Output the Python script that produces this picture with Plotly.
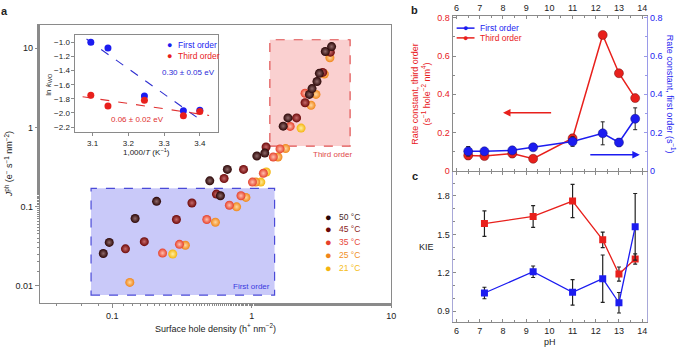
import plotly.graph_objects as go

W, H = 685, 355

# ---------------- Panel a data ----------------
hole_50 = [0.0863, 0.0952, 0.1459, 0.208, 0.5006, 0.669, 0.597, 1.089, 1.242, 1.683, 1.82, 2.594, 2.71, 2.94, 3.058, 3.373, 3.741]
jph_50 = [0.0255, 0.0352, 0.0705, 0.1162, 0.2113, 0.2945, 0.1368, 0.435, 0.473, 1.037, 1.318, 2.61, 3.09, 3.80, 4.82, 9.1, 10.5]
hole_45 = [0.1244, 0.1698, 0.2887, 0.3728, 0.634, 0.874, 0.5585, 1.268, 2.099, 2.415, 3.228, 3.664]
jph_45 = [0.0292, 0.036, 0.0686, 0.111, 0.226, 0.2945, 0.1435, 0.566, 1.318, 2.05, 4.95, 8.92]
hole_35 = [0.2296, 0.3034, 0.4764, 0.692, 0.838, 1.013, 1.213, 1.429, 1.596, 1.888, 2.415]
jph_35 = [0.0258, 0.0333, 0.0686, 0.1038, 0.1368, 0.2037, 0.263, 0.423, 0.535, 1.028, 2.70]
hole_25 = [0.1337, 0.3346, 0.5495, 0.780, 0.909, 1.071, 1.544, 1.751, 2.665, 2.89, 3.319, 3.639]
jph_25 = [0.011, 0.0324, 0.0634, 0.0991, 0.1303, 0.2037, 0.423, 0.540, 1.905, 2.61, 4.73, 7.59]
hole_21 = [0.2716, 1.163, 1.274, 2.26]
jph_21 = [0.0251, 0.2037, 0.273, 0.980]

temp_labels = ["50 °C", "45 °C", "35 °C", "25 °C", "21 °C"]

# regime boxes (data units)
first_box_x = [0.0705, 1.46]
first_box_y = [0.0076, 0.17]
third_box_x = [1.35, 5.08]
third_box_y = [0.58, 12.8]

# inset (Arrhenius)
inv_T = [3.095, 3.143, 3.245, 3.354, 3.400]
lnk_first = [-1.00, -1.08, -1.76, -1.97, -1.96]
lnk_third = [-1.75, -1.90, -1.82, -2.04, -1.98]
fit_first_x = [3.083, 3.394]
fit_first_y = [-0.954, -2.07]
fit_third_x = [3.072, 3.426]
fit_third_y = [-1.77, -2.035]

# ---------------- Panel b data ----------------
ph_b = [6.5, 7.2, 8.4, 9.3, 11.0, 12.3, 13.0, 13.7]
k_third = [0.080, 0.077, 0.090, 0.063, 0.170, 0.710, 0.510, 0.380]
k_third_err = [0.020, 0.012, 0.020, 0.010, 0.020, 0.010, 0.012, 0.012]
k_first = [0.102, 0.102, 0.107, 0.123, 0.153, 0.196, 0.148, 0.272]
k_first_err = [0.025, 0.012, 0.015, 0.010, 0.025, 0.060, 0.020, 0.057]

# ---------------- Panel c data ----------------
ph_c = [7.2, 9.3, 11.0, 12.3, 13.0, 13.7]
kie_third = [1.584, 1.640, 1.760, 1.457, 1.190, 1.307]
kie_third_err = [0.10, 0.085, 0.13, 0.06, 0.055, 0.04]
kie_first = [1.042, 1.208, 1.047, 1.154, 0.966, 1.559]
kie_first_err = [0.045, 0.045, 0.10, 0.185, 0.08, 0.26]

FONT = "Liberation Sans, Arial, sans-serif"
RED = "#e8201c"
BLUE = "#1c1cf0"
AXC = "#8a8a8a"


def fx(p):
    return p / W


def fy(p):
    return 1 - p / H


fig = go.Figure()

# --- sphere scatter ---
sphere_base = ["#2a0505", "#6c0808", "#e6402a", "#f0861a", "#f5b40e"]
sphere_hi = ["#8f6a6a", "#c76a6a", "#ffc0b0", "#ffd8a0", "#fff0a0"]
legend_txt = ["#4a2a2a", "#8a1c1c", "#e8483a", "#f0901e", "#f5bd20"]
series = [(hole_50, jph_50), (hole_45, jph_45), (hole_35, jph_35), (hole_25, jph_25), (hole_21, jph_21)]
for i in [4, 3, 2, 1, 0]:
    xs, ys = series[i]
    fig.add_trace(go.Scatter(
        x=xs, y=ys, mode="markers", xaxis="x", yaxis="y", name=temp_labels[i], showlegend=False,
        marker=dict(size=9, color=sphere_base[i], line=dict(width=0),
                    gradient=dict(type="radial", color=sphere_hi[i])),
        hoverinfo="skip"))

# --- inset ---
fig.add_trace(go.Scatter(x=fit_first_x, y=fit_first_y, mode="lines", xaxis="x2", yaxis="y2",
                         line=dict(color="#3030d0", width=1.1, dash="dash"), showlegend=False))
fig.add_trace(go.Scatter(x=fit_third_x, y=fit_third_y, mode="lines", xaxis="x2", yaxis="y2",
                         line=dict(color="#e03030", width=1.1, dash="dash"), showlegend=False))
fig.add_trace(go.Scatter(x=inv_T, y=lnk_first, mode="markers", xaxis="x2", yaxis="y2",
                         name="First order", showlegend=False, marker=dict(size=7, color=BLUE)))
fig.add_trace(go.Scatter(x=inv_T, y=lnk_third, mode="markers", xaxis="x2", yaxis="y2",
                         name="Third order", showlegend=False, marker=dict(size=7, color=RED)))

# --- panel b ---
fig.add_trace(go.Scatter(x=ph_b, y=k_first, mode="lines+markers", xaxis="x3", yaxis="y4",
                         name="First order", showlegend=False,
                         line=dict(color=BLUE, width=1.5),
                         marker=dict(size=9, color=BLUE, line=dict(width=0.5, color="#10107a")),
                         error_y=dict(type="data", array=k_first_err, color="#222", thickness=1, width=2)))
fig.add_trace(go.Scatter(x=ph_b, y=k_third, mode="lines+markers", xaxis="x3", yaxis="y3",
                         name="Third order", showlegend=False,
                         line=dict(color=RED, width=1.5),
                         marker=dict(size=9, color=RED, line=dict(width=0.5, color="#701010")),
                         error_y=dict(type="data", array=k_third_err, color="#222", thickness=1, width=2)))

# --- panel c ---
fig.add_trace(go.Scatter(x=ph_c, y=kie_third, mode="lines+markers", xaxis="x4", yaxis="y5",
                         showlegend=False, line=dict(color=RED, width=1.3),
                         marker=dict(size=7, symbol="square", color=RED),
                         error_y=dict(type="data", array=kie_third_err, color="#222", thickness=1.2, width=2)))
fig.add_trace(go.Scatter(x=ph_c, y=kie_first, mode="lines+markers", xaxis="x4", yaxis="y5",
                         showlegend=False, line=dict(color=BLUE, width=1.3),
                         marker=dict(size=7, symbol="square", color=BLUE),
                         error_y=dict(type="data", array=kie_first_err, color="#222", thickness=1.2, width=2)))

tickfont = dict(family=FONT, size=9, color="#222")
minor_log = dict(ticks="outside", ticklen=2, tickcolor=AXC)

fig.update_layout(
    width=W, height=H, autosize=False,
    margin=dict(l=0, r=0, t=0, b=0),
    paper_bgcolor="white", plot_bgcolor="rgba(0,0,0,0)",
    font=dict(family=FONT, size=9, color="#222"),
    showlegend=False,
    xaxis=dict(domain=[fx(40), fx(394)], type="log", range=[-1.52, 1.0],
               tickvals=[0.1, 1, 10], ticktext=["0.1", "1", "10"],
               ticks="outside", ticklen=4, tickcolor=AXC, showline=True, linecolor=AXC, linewidth=1,
               mirror=True, showgrid=False, zeroline=False, tickfont=tickfont, minor=minor_log,
               anchor="y"),
    yaxis=dict(domain=[fy(307), fy(22)], type="log", range=[-2.22, 1.30],
               tickvals=[0.01, 0.1, 1, 10], ticktext=["0.01", "0.1", "1", "10"],
               ticks="outside", ticklen=4, tickcolor=AXC, showline=True, linecolor=AXC, linewidth=1,
               mirror=True, showgrid=False, zeroline=False, tickfont=tickfont, minor=minor_log,
               anchor="x"),
    xaxis2=dict(domain=[fx(76), fx(220)], range=[3.052, 3.452], tickvals=[3.1, 3.2, 3.3, 3.4],
                ticks="outside", ticklen=3, tickcolor=AXC, showline=True, linecolor=AXC, linewidth=1,
                mirror=True, showgrid=False, zeroline=False, tickfont=dict(family=FONT, size=8, color="#222"),
                anchor="y2"),
    yaxis2=dict(domain=[fy(132), fy(33)], range=[-2.27, -0.90], tickvals=[-2.2, -2.0, -1.8, -1.6, -1.4, -1.2, -1.0],
                tickformat=".1f",
                ticks="outside", ticklen=3, tickcolor=AXC, showline=True, linecolor=AXC, linewidth=1,
                mirror=True, showgrid=False, zeroline=False, tickfont=dict(family=FONT, size=8, color="#222"),
                anchor="x2"),
    xaxis3=dict(domain=[fx(456), fx(652)], range=[5.83, 14.22], dtick=1, side="top",
                ticks="inside", ticklen=3, tickcolor=AXC, showline=True, linecolor=AXC, linewidth=1,
                mirror="ticks", showgrid=False, zeroline=False, tickfont=tickfont,
                minor=dict(ticks="inside", ticklen=2, dtick=0.5, tickcolor=AXC), anchor="y3"),
    yaxis3=dict(domain=[fy(171.7), fy(13.3)], range=[0, 0.809], tickvals=[0, 0.2, 0.4, 0.6, 0.8],
                ticks="inside", ticklen=3, tickcolor=AXC, showline=True, linecolor=AXC, linewidth=1,
                showgrid=False, zeroline=False, tickfont=dict(family=FONT, size=9, color=RED),
                minor=dict(ticks="inside", ticklen=2, dtick=0.1, tickcolor=AXC), anchor="x3"),
    yaxis4=dict(overlaying="y3", side="right", range=[0, 0.809], tickvals=[0, 0.2, 0.4, 0.6, 0.8],
                ticks="inside", ticklen=3, tickcolor="#9a9ae8", showline=True, linecolor="#9a9ae8", linewidth=1,
                showgrid=False, zeroline=False, tickfont=dict(family=FONT, size=9, color=BLUE),
                minor=dict(ticks="inside", ticklen=2, dtick=0.1, tickcolor="#9a9ae8"), anchor="x3"),
    xaxis4=dict(domain=[fx(456), fx(652)], range=[5.83, 14.22], dtick=1,
                ticks="inside", ticklen=3, tickcolor=AXC, showline=True, linecolor=AXC, linewidth=1,
                mirror="ticks", showgrid=False, zeroline=False, tickfont=tickfont,
                minor=dict(ticks="inside", ticklen=2, dtick=0.5, tickcolor=AXC), anchor="y5"),
    yaxis5=dict(domain=[fy(326.7), fy(172.5)], range=[0.813, 1.99], tickvals=[0.9, 1.2, 1.5, 1.8],
                tickformat=".1f",
                ticks="inside", ticklen=3, tickcolor=AXC, showline=True, linecolor="#a8a8d8", linewidth=1,
                mirror=True, showgrid=False, zeroline=False, tickfont=tickfont,
                minor=dict(ticks="inside", ticklen=2, dtick=0.1, tickcolor=AXC), anchor="x4"),
)

# regime boxes
fig.add_shape(type="rect", xref="x", yref="y", x0=first_box_x[0], x1=first_box_x[1],
              y0=first_box_y[0], y1=first_box_y[1], layer="below",
              fillcolor="rgba(120,120,240,0.40)", line=dict(color="#4a4ad8", width=1.2, dash="dash"))
fig.add_shape(type="rect", xref="x", yref="y", x0=third_box_x[0], x1=third_box_x[1],
              y0=third_box_y[0], y1=third_box_y[1], layer="below",
              fillcolor="rgba(240,120,120,0.35)", line=dict(color="#e05050", width=1.2, dash="dash"))
# inset background
fig.add_shape(type="rect", xref="x2 domain", yref="y2 domain", x0=0, x1=1, y0=0, y1=1,
              layer="below", fillcolor="white", line=dict(width=0))

ann = []


def txt(x, y, s, color="#222", size=9, angle=0, bold=False, xanchor="center"):
    ann.append(dict(x=fx(x), y=fy(y), xref="paper", yref="paper", text=f"<b>{s}</b>" if bold else s,
                    showarrow=False, textangle=angle, xanchor=xanchor, yanchor="middle",
                    font=dict(family=FONT, size=size, color=color)))


txt(5, 8, "a", size=11, bold=True)
txt(418, 7, "b", size=11, bold=True)
txt(418, 177, "c", size=11, bold=True)
txt(9, 165, "<i>J</i><sup>ph</sup> (e<sup>−</sup> s<sup>−1</sup> nm<sup>−2</sup>)", angle=-90)
txt(217, 333, "Surface hole density (h<sup>+</sup> nm<sup>−2</sup>)")
txt(49, 83, "ln <i>k</i><sub>WO</sub>", size=8, angle=-90)
txt(148, 152, "1,000/<i>T</i> (K<sup>−1</sup>)", size=8)
txt(190, 71, "0.30 ± 0.05 eV", color="#2a2ad8", size=8)
txt(139, 119, "0.06 ± 0.02 eV", color="#e03030", size=8)
txt(274, 290, "First order", color="#3a3ae0", size=8, xanchor="right")
txt(335, 155, "Third order", color="#e04848", size=8)
txt(424, 93, "Rate constant, third order<br>(s<sup>−1</sup> hole<sup>−2</sup> nm<sup>4</sup>)", color=RED, angle=-90)
txt(676, 93, "Rate constant, first order (s<sup>−1</sup>)", color=BLUE, angle=90)
txt(430, 250, "KIE")
txt(554, 347, "pH")

# temperature legend (panel a)
leg_y = [218.7, 231.7, 244.7, 257.5, 270.7]
for i in range(5):
    txt(331, leg_y[i], "●", color=sphere_base[i], size=11)
    txt(339, leg_y[i], temp_labels[i], color=legend_txt[i], size=8.5, xanchor="left")

# inset legend
txt(170.7, 43.3, "●", color=BLUE, size=9)
txt(177.5, 43.3, "First order", color=BLUE, size=8.5, xanchor="left")
txt(170.7, 54.3, "●", color=RED, size=9)
txt(177.5, 54.3, "Third order", color=RED, size=8.5, xanchor="left")

# panel b legend
for yy, col, lab in [(25.7, BLUE, "First order"), (35.7, RED, "Third order")]:
    fig.add_shape(type="line", xref="paper", yref="paper", x0=fx(460), x1=fx(478), y0=fy(yy), y1=fy(yy),
                  line=dict(color=col, width=1.5))
    txt(469, yy, "●", color=col, size=9)
    txt(482, yy, lab, color=col, size=8.5, xanchor="left")

# arrows in panel b
ann.append(dict(x=8.0, y=0.303, ax=10.14, ay=0.303, xref="x3", yref="y3", axref="x3", ayref="y3",
                showarrow=True, arrowhead=2, arrowsize=1, arrowwidth=1.5, arrowcolor=RED, text=""))
ann.append(dict(x=13.9, y=0.084, ax=11.7, ay=0.084, xref="x3", yref="y3", axref="x3", ayref="y3",
                showarrow=True, arrowhead=2, arrowsize=1, arrowwidth=1.5, arrowcolor=BLUE, text=""))
fig.update_layout(annotations=ann)

fig.write_html("out.html", config={"displayModeBar": False},
               post_script="document.body.style.margin='0px';document.body.style.overflow='hidden';")
